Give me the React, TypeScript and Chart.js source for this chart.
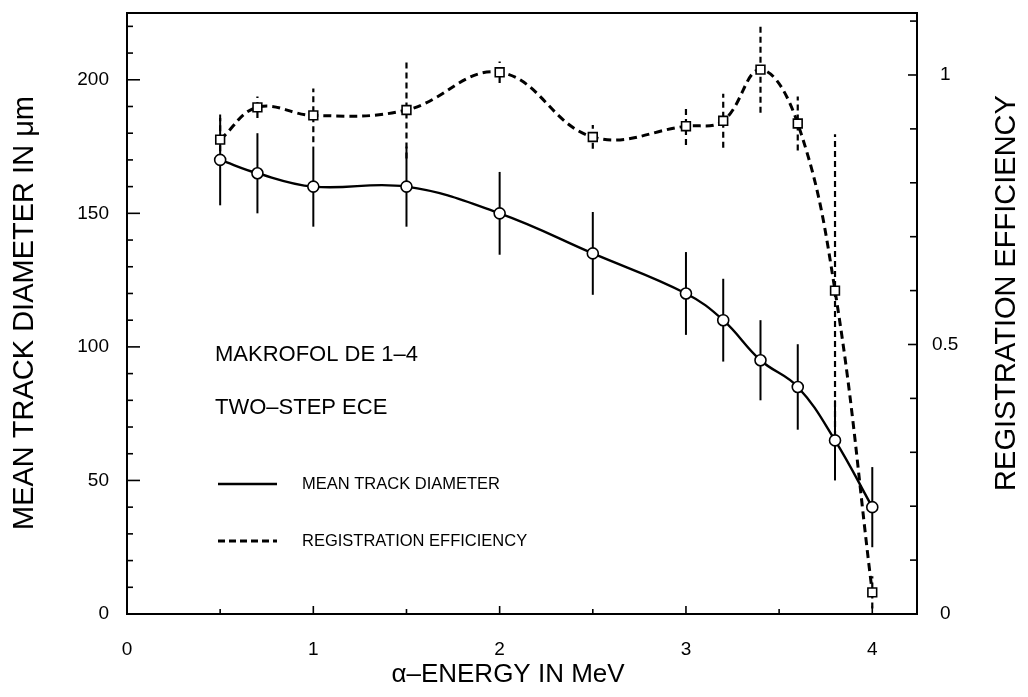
import React, { useEffect, useRef } from "react";
import { Chart, registerables } from "chart.js";

Chart.register(...registerables);

// ---- data ----
const energies = [0.5, 0.7, 1.0, 1.5, 2.0, 2.5, 3.0, 3.2, 3.4, 3.6, 3.8, 4.0];
const diameter = [170, 165, 160, 160, 150, 135, 120, 110, 95, 85, 65, 40];
const diameterErr = [17, 15, 15, 15, 15.5, 15.5, 15.5, 15.5, 15, 16, 15, 15];
const efficiency = [0.88, 0.94, 0.925, 0.935, 1.005, 0.885, 0.905, 0.915, 1.01, 0.91, 0.6, 0.04];
const efficiencyErr = [0.04, 0.02, 0.05, 0.09, 0.02, 0.022, 0.035, 0.05, 0.08, 0.05, 0.29, 0.03];
const xTickLabels = [0, 1, 2, 3, 4];
const leftTickLabels = [0, 50, 100, 150, 200];
const rightTickLabels = [0, 0.5, 1];

const FONT = "'Liberation Sans', Arial, Helvetica, sans-serif";

const near = (v: number, list: number[]) => list.some((l) => Math.abs(l - v) < 1e-9);

const decorPlugin = {
  id: "decor",
  beforeDatasetsDraw(chart: any) {
    const ctx = chart.ctx;
    const xs = chart.scales.x, yl = chart.scales.y, yr = chart.scales.y1;
    ctx.save();
    ctx.strokeStyle = "#000";
    ctx.lineCap = "butt";
    ctx.lineWidth = 2;
    ctx.setLineDash([]);
    energies.forEach((e, i) => {
      const px = xs.getPixelForValue(e);
      ctx.beginPath();
      ctx.moveTo(px, yl.getPixelForValue(diameter[i] - diameterErr[i]));
      ctx.lineTo(px, yl.getPixelForValue(diameter[i] + diameterErr[i]));
      ctx.stroke();
    });
    ctx.lineWidth = 2.2;
    ctx.setLineDash([6, 4]);
    energies.forEach((e, i) => {
      const px = xs.getPixelForValue(e);
      ctx.beginPath();
      ctx.moveTo(px, yr.getPixelForValue(efficiency[i] - efficiencyErr[i]));
      ctx.lineTo(px, yr.getPixelForValue(efficiency[i] + efficiencyErr[i]));
      ctx.stroke();
    });
    ctx.restore();
  },
  afterDraw(chart: any) {
    const ctx = chart.ctx;
    const a = chart.chartArea;
    const xs = chart.scales.x, yl = chart.scales.y, yr = chart.scales.y1;
    ctx.save();
    ctx.strokeStyle = "#000";
    ctx.fillStyle = "#000";
    ctx.setLineDash([]);
    ctx.lineWidth = 2;
    ctx.strokeRect(a.left, a.top, a.right - a.left, a.bottom - a.top);

    const seg = (x1: number, y1: number, x2: number, y2: number) => {
      ctx.beginPath();
      ctx.moveTo(x1, y1);
      ctx.lineTo(x2, y2);
      ctx.stroke();
    };
    ctx.lineWidth = 1.6;
    xs.ticks.forEach((t: any) => {
      const px = xs.getPixelForValue(t.value);
      const len = near(t.value, xTickLabels) ? 8 : 5;
      seg(px, a.bottom, px, a.bottom - len);
    });
    yl.ticks.forEach((t: any) => {
      const py = yl.getPixelForValue(t.value);
      const len = near(t.value, leftTickLabels) ? 13 : 6;
      seg(a.left, py, a.left + len, py);
    });
    yr.ticks.forEach((t: any) => {
      const py = yr.getPixelForValue(t.value);
      const len = near(t.value, rightTickLabels) ? 9 : 7;
      seg(a.right, py, a.right - len, py);
    });

    const text = (s: string, x: number, y: number, size: number, align: CanvasTextAlign, rot = 0) => {
      ctx.save();
      ctx.translate(x, y);
      if (rot) ctx.rotate(rot);
      ctx.font = `${size}px ${FONT}`;
      ctx.textAlign = align;
      ctx.textBaseline = "middle";
      ctx.fillText(s, 0, 0);
      ctx.restore();
    };

    // axis titles
    text("MEAN TRACK DIAMETER IN \u03BCm", 25, 313, 29, "center", -Math.PI / 2);
    text("REGISTRATION EFFICIENCY", 1007, 293, 29, "center", -Math.PI / 2);
    text("\u03B1\u2013ENERGY IN MeV", 508, 675, 26, "center");

    // annotations
    text("MAKROFOL DE 1\u20134", 215, 355, 22, "left");
    text("TWO\u2013STEP ECE", 215, 408, 22, "left");

    // legend
    ctx.lineWidth = 2.4;
    ctx.setLineDash([]);
    seg(218, 484, 277, 484);
    ctx.lineWidth = 3;
    ctx.setLineDash([7, 4]);
    seg(218, 541, 277, 541);
    ctx.setLineDash([]);
    text("MEAN TRACK DIAMETER", 302, 484, 16.5, "left");
    text("REGISTRATION EFFICIENCY", 302, 541, 16.5, "left");
    ctx.restore();
  },
};

const zeroPad = (s: any) => {
  s.paddingTop = 0;
  s.paddingBottom = 0;
  s.paddingLeft = 0;
  s.paddingRight = 0;
};

export default function App() {
  const ref = useRef<HTMLCanvasElement | null>(null);
  useEffect(() => {
    if (!ref.current) return;
    const chart = new Chart(ref.current, {
      type: "line",
      data: {
        datasets: [
          {
            label: "MEAN TRACK DIAMETER",
            data: energies.map((e, i) => ({ x: e, y: diameter[i] })),
            yAxisID: "y",
            borderColor: "#000",
            borderWidth: 2.4,
            tension: 0.4,
            pointStyle: "circle",
            pointRadius: 5.5,
            pointBorderWidth: 1.6,
            pointBackgroundColor: "#fff",
            pointBorderColor: "#000",
            fill: false,
          },
          {
            label: "REGISTRATION EFFICIENCY",
            data: energies.map((e, i) => ({ x: e, y: efficiency[i] })),
            yAxisID: "y1",
            borderColor: "#000",
            borderWidth: 3,
            borderDash: [8, 5],
            tension: 0.4,
            pointStyle: "rect",
            pointRadius: 6.2,
            pointBorderWidth: 1.6,
            pointBackgroundColor: "#fff",
            pointBorderColor: "#000",
            fill: false,
          },
        ],
      },
      options: {
        animation: false,
        responsive: false,
        devicePixelRatio: 1,
        layout: { padding: { top: 13, left: 0, right: 0, bottom: 0 } },
        plugins: { legend: { display: false }, tooltip: { enabled: false }, title: { display: false } },
        scales: {
          x: {
            type: "linear",
            min: 0,
            max: 4.24,
            grid: { display: false, drawTicks: false },
            border: { display: false },
            ticks: {
              stepSize: 0.5,
              includeBounds: false,
              padding: 24,
              color: "#000",
              font: { family: FONT, size: 19 },
              maxRotation: 0,
              autoSkip: false,
              callback: (v: any) => (near(Number(v), xTickLabels) ? String(Number(v)) : ""),
            },
            afterFit: (s: any) => {
              s.height = 83;
              zeroPad(s);
            },
          },
          y: {
            type: "linear",
            position: "left",
            min: 0,
            max: 225,
            grid: { display: false, drawTicks: false },
            border: { display: false },
            ticks: {
              stepSize: 10,
              includeBounds: false,
              padding: 18,
              color: "#000",
              font: { family: FONT, size: 19 },
              autoSkip: false,
              callback: (v: any) => (near(Number(v), leftTickLabels) ? String(Number(v)) : ""),
            },
            afterFit: (s: any) => {
              s.width = 127;
              zeroPad(s);
            },
          },
          y1: {
            type: "linear",
            position: "right",
            min: 0,
            max: 1.115,
            grid: { display: false, drawTicks: false },
            border: { display: false },
            ticks: {
              stepSize: 0.1,
              includeBounds: false,
              padding: 15,
              crossAlign: "center",
              color: "#000",
              font: { family: FONT, size: 19 },
              autoSkip: false,
              callback: (v: any) => {
                const n = Number(v);
                const hit = rightTickLabels.find((l) => Math.abs(l - n) < 1e-9);
                return hit === undefined ? "" : String(hit);
              },
            },
            afterFit: (s: any) => {
              s.width = 111;
              zeroPad(s);
            },
          },
        },
      },
      plugins: [decorPlugin],
    } as any);
    return () => chart.destroy();
  }, []);

  return (
    <div style={{ position: "absolute", left: 0, top: 0, width: 1028, height: 697, background: "#fff" }}>
      <canvas ref={ref} width={1028} height={697} style={{ display: "block" }} />
    </div>
  );
}
